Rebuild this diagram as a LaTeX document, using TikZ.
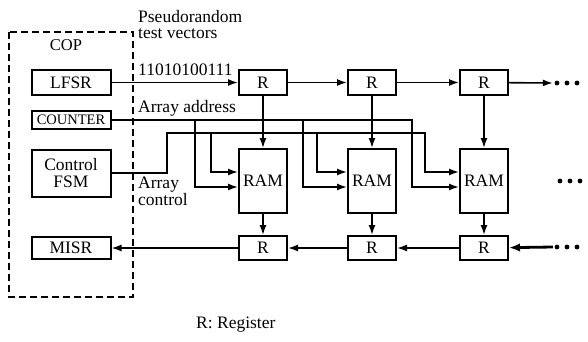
\documentclass[tikz,border=0pt]{standalone}
\usepackage{fontspec}
\setmainfont{Liberation Serif}
\usetikzlibrary{arrows.meta, positioning, calc}

\begin{document}
\begin{tikzpicture}[
  x=1pt, y=-1pt,
  blk/.style={draw, line width=2pt, minimum width=79pt, inner sep=0pt, align=center, font=\fontsize{17.5}{17}\selectfont},
  reg/.style={draw, line width=2pt, minimum width=48pt, minimum height=25pt, inner sep=0pt, font=\fontsize{17.5}{17}\selectfont},
  ram/.style={reg, minimum height=64pt},
  wire/.style={line width=1.6pt},
  arr/.style={wire, -{Latex[length=10pt,width=7pt]}},
  siglabel/.style={font=\fontsize{17.5}{16.5}\selectfont, inner sep=0pt, align=left},
  dotrow/.style={inner sep=0pt, minimum width=28pt, minimum height=6pt}
]
\useasboundingbox (0,0) rectangle (588,341);

% ---- COP block ----
\draw[line width=1.4pt, dash pattern=on 7pt off 4pt] (9,32) rectangle (133,297);
\node[font=\fontsize{16.5}{16}\selectfont, anchor=base] (cop) at (66,50) {COP};
\node[blk, minimum height=25pt] (lfsr) at (71,82.5) {LFSR};
\node[blk, minimum height=18pt, font=\fontsize{14.5}{15}\selectfont] (cnt) at (71,120) {COUNTER};
\node[blk, minimum height=47pt] (fsm) at (71,173) {Control\\FSM};
\node[blk, minimum height=22pt] (misr) at (71,248) {MISR};

% ---- registers and RAMs ----
\foreach \i/\x in {1/263, 2/372, 3/484} {
  \node[reg] (rt\i) at (\x,82.5) {R};
  \node[ram] (ram\i) at (\x,181) {RAM};
  \node[reg, minimum height=24pt] (rb\i) at (\x,248) {R};
  \draw[arr] (rt\i) -- (ram\i);
  \draw[arr] (ram\i) -- (rb\i);
}

% ---- continuation dots ----
\node[dotrow] (dtop) at (567,83) {};
\node[dotrow] (dmid) at (570,181) {};
\node[dotrow] (dbot) at (567,247) {};
\foreach \d in {dtop, dmid, dbot}
  \foreach \o in {-10,0,10}
    \fill ($(\d)+(\o,0)$) circle (2.4pt);

% ---- test vector chain ----
\draw[arr] (lfsr) -- (rt1);
\draw[arr] (rt1) -- (rt2);
\draw[arr] (rt2) -- (rt3);
\draw[arr] (rt3) -- (dtop.west);

% ---- response chain ----
\draw[line width=2.8pt, -{Latex[length=11pt,width=8.5pt]}] (dbot.west) -- (rb3);
\draw[arr] (rb3) -- (rb2);
\draw[arr] (rb2) -- (rb1);
\draw[arr] (rb1) -- (misr);

% ---- array address bus ----
\coordinate (abus) at (412,120);
\draw[arr] (cnt.east) -- (abus) |- ($(ram3.west)+(0,6)$);
\foreach \i/\x in {1/195, 2/303}
  \draw[arr] (\x,120) |- ($(ram\i.west)+(0,6)$);

% ---- array control bus ----
\coordinate (cbend) at (167,133);
\coordinate (cbus) at (425,133);
\draw[arr] (fsm.east) -| (cbend) -- (cbus) |- ($(ram3.west)+(0,-9)$);
\foreach \i/\x in {1/211, 2/317}
  \draw[arr] (\x,133) |- ($(ram\i.west)+(0,-9)$);

% ---- labels ----
\node[siglabel, anchor=north west] (lpr) at (138,10) {Pseudorandom\\test vectors};
\node[siglabel, anchor=base west] (lvec) at (138,75) {11010100111};
\node[siglabel, anchor=base west] (ladr) at (138,112) {Array address};
\node[siglabel, anchor=north west] (lctl) at (138,177) {Array\\control};
\node[siglabel, anchor=base west] (lkey) at (196,328) {R: Register};
\end{tikzpicture}
\end{document}
